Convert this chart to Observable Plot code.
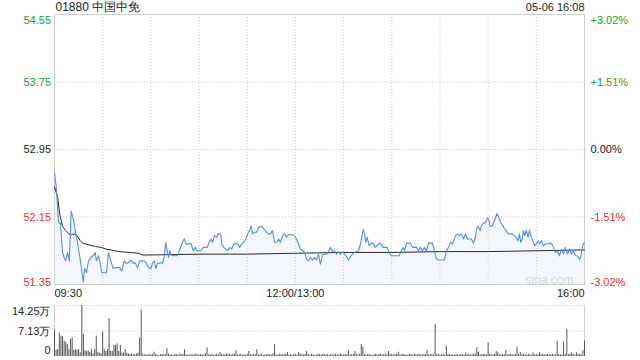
<!DOCTYPE html>
<html><head><meta charset="utf-8">
<script src="https://cdn.jsdelivr.net/npm/d3@7"></script>
<script src="https://cdn.jsdelivr.net/npm/@observablehq/plot@0.6"></script>
<style>
body{margin:0;background:#fff;}
#chart{position:relative;width:640px;height:360px;overflow:hidden;}
#chart svg{position:absolute;left:0;}
</style></head><body><div id="chart"></div>
<script>
const title = "01880 中国中免";
const stamp = "05-06 16:08";
const prevClose = 52.95;
const priceTicks = [51.35, 52.15, 52.95, 53.75, 54.55];
const pctLabels = ["-3.02%", "-1.51%", "0.00%", "+1.51%", "+3.02%"];
const timeTicks = [0, 150, 330];
const timeLabels = ["09:30", "12:00/13:00", "16:00"];
const volTicks = [0, 7.13, 14.25];
const volLabels = ["0", "7.13万", "14.25万"];

// minutes since 09:30 (trading minutes, lunch removed)
const minutes = [
0,1.2,2.5,3.7,5.0,6.0,7.0,8.1,9.2,9.5,
10.4,11.6,12.9,14.3,15.8,17.0,17.9,18.7,19.9,21.2,
22.6,24.1,25.3,26.1,27.4,28.2,29.4,30.9,32.4,33.6,
35.1,36.5,37.8,39.2,40.7,41.9,43.4,44.8,46.1,47.5,
49.0,50.2,51.7,53.1,54.4,55.8,57.3,58.5,60.0,61.0,
62.1,63.1,64.1,65.2,66.2,67.2,68.3,69.3,70.2,71.0,
71.8,73.0,73.9,75.1,76.4,77.6,78.9,80.1,80.9,82.2,
83.4,85.1,86.4,87.6,88.8,90.1,91.3,92.6,93.8,95.1,
96.3,97.6,98.4,99.6,100.9,102.1,103.4,104.2,105.4,106.7,
107.9,109.1,110.4,111.6,112.9,114.1,115.4,116.6,117.9,119.1,
120.3,121.6,122.5,123.3,124.5,125.8,127.0,128.3,129.5,130.7,
132.0,133.2,134.5,135.7,137.0,138.2,139.5,140.7,142.0,143.2,
144.4,145.7,146.9,148.2,149.4,150.7,151.9,153.2,154.4,155.7,
156.9,158.1,159.4,160.6,161.9,163.1,164.4,165.6,166.9,168.1,
169.3,170.6,171.8,173.1,174.3,175.6,176.8,178.1,179.3,180.6,
181.8,183.0,184.3,185.5,186.8,188.0,189.3,190.5,191.3,192.2,
193.0,193.8,194.7,195.9,197.2,198.4,199.7,200.9,202.2,203.4,
204.6,205.9,207.1,208.4,209.6,210.9,212.1,213.4,214.6,215.9,
217.1,217.9,219.2,220.4,221.6,222.9,224.1,225.4,226.6,227.9,
229.1,230.4,231.6,232.9,234.1,235.3,236.6,237.8,239.1,240.3,
241.6,242.8,244.1,245.3,246.6,247.8,249.0,249.7,250.9,252.2,
253.4,254.6,255.9,257.1,258.4,259.6,260.9,262.1,262.9,263.8,
265.0,265.8,267.1,268.3,269.6,270.4,271.3,272.5,273.8,274.6,
275.4,276.3,277.5,278.7,280.0,281.2,282.5,283.7,285.0,286.2,
287.4,288.7,289.5,290.3,291.2,292.0,292.8,293.7,294.9,295.7,
296.5,297.8,299.0,300.3,301.1,302.0,303.2,304.4,305.7,306.9,
308.2,309.4,310.7,311.9,313.2,314.4,315.7,316.9,318.1,319.4,
320.6,321.9,323.1,324.4,325.6,326.8,327.6,328.5,329.3,330
];
const prices = [
52.67,52.49,52.08,52.08,51.73,51.67,51.63,51.73,51.63,51.77,
52.22,52.13,51.99,51.85,51.67,51.51,51.38,51.54,51.49,51.63,
51.67,51.69,51.73,51.63,51.69,51.63,51.49,51.49,51.49,51.73,
51.63,51.54,51.55,51.55,51.55,51.51,51.63,51.60,51.61,51.64,
51.60,51.61,51.55,51.63,51.63,51.63,51.60,51.55,51.54,51.60,
51.63,51.54,51.60,51.60,51.61,51.60,51.67,51.85,51.75,51.67,
51.75,51.69,51.69,51.69,51.69,51.75,51.81,51.87,51.89,51.82,
51.84,51.83,51.75,51.79,51.75,51.75,51.75,51.79,51.79,51.79,
51.85,51.89,51.85,51.93,51.91,51.95,51.95,51.83,51.79,51.77,
51.75,51.79,51.77,51.83,51.84,51.83,51.79,51.83,51.85,51.89,
51.95,52.00,52.04,51.95,51.97,51.97,52.02,52.04,52.03,52.00,
51.97,51.95,51.95,51.99,51.85,51.85,51.89,51.85,51.93,51.95,
51.91,51.94,51.94,51.94,51.93,51.89,51.83,51.77,51.75,51.73,
51.65,51.63,51.67,51.64,51.67,51.64,51.71,51.59,51.70,51.71,
51.71,51.74,51.79,51.74,51.75,51.71,51.74,51.71,51.74,51.71,
51.68,51.64,51.68,51.71,51.73,51.74,51.75,51.83,51.91,52.00,
51.95,51.85,51.91,51.81,51.84,51.84,51.79,51.81,51.84,51.83,
51.79,51.79,51.79,51.73,51.69,51.69,51.69,51.69,51.69,51.75,
51.79,51.75,51.84,51.84,51.84,51.79,51.79,51.79,51.75,51.79,
51.75,51.79,51.75,51.84,51.84,51.84,51.75,51.65,51.64,51.64,
51.64,51.64,51.75,51.79,51.85,51.83,51.89,51.93,51.95,51.93,
51.95,51.89,51.95,51.89,51.89,51.89,51.84,51.91,52.02,52.04,
51.99,52.04,52.08,52.08,52.14,52.12,52.04,52.04,52.10,52.14,
52.19,52.16,52.10,52.06,52.02,51.99,51.95,51.95,51.95,51.93,
51.91,51.87,51.95,51.85,51.89,51.99,51.93,51.99,51.91,51.99,
51.93,51.87,51.81,51.84,51.87,51.83,51.87,51.81,51.83,51.83,
51.84,51.84,51.79,51.73,51.75,51.69,51.77,51.71,51.79,51.71,
51.77,51.71,51.75,51.69,51.69,51.65,51.67,51.77,51.84,51.84
];
const avgMinutes = [0,2,3.3,5,7,9,10.5,12.5,14,16,17.5,21.5,25.5,29,32,35,40,46.5,52.5,54.5,60,90,120,150,180,210,240,270,300,330];
const avgPrices = [52.51,52.38,52.18,52.04,51.99,51.95,51.94,51.95,51.93,51.87,51.84,51.82,51.80,51.79,51.77,51.76,51.74,51.73,51.72,51.70,51.70,51.71,51.71,51.72,51.73,51.73,51.74,51.74,51.75,51.76];

// volume per minute, in 万
const volumes = [
7.4,1.7,1.9,6.5,5.7,5.5,4.3,4.0,3.3,1.9,
4.8,5.2,1.7,1.9,1.7,1.9,1.0,14.25,6.2,1.6,
1.4,1.6,1.1,1.9,0.7,1.9,5.7,1.2,0.9,0.7,
6.9,1.9,1.4,1.9,10.6,1.4,1.4,3.1,3.1,3.5,
1.4,3.1,0.95,0.95,1.9,0.9,0.7,0.5,0.7,0.5,
0.5,0.7,0.9,5.2,13.0,0.6,0.4,0.5,0.3,0.6,
0.4,0.5,1.2,0.6,0.4,0.3,0.5,0.6,0.4,0.5,
2.2,0.6,0.4,0.5,0.3,0.6,0.5,0.4,0.7,0.5,
0.6,1.9,0.4,0.5,0.3,0.6,0.4,0.5,0.7,0.4,
0.5,0.6,0.4,0.5,0.7,2.4,0.5,0.4,0.6,0.3,
0.5,0.7,0.4,1.0,0.5,0.6,0.4,0.8,0.5,0.6,
0.4,0.5,0.7,1.6,0.4,0.5,0.6,0.3,0.5,0.4,
0.6,1.4,0.5,0.4,0.6,0.5,1.9,0.4,0.5,0.6,
0.3,0.5,0.4,0.6,0.5,0.4,0.7,3.3,0.5,0.4,
0.6,0.5,0.4,0.5,0.6,1.1,0.4,0.5,0.3,0.6,
0.5,0.4,1.1,0.6,0.5,0.4,0.6,1.4,0.5,0.4,
0.6,0.5,0.3,0.4,0.6,0.5,0.4,0.5,0.6,0.4,
0.5,0.3,0.6,0.5,0.4,0.6,0.5,0.4,0.7,0.5,
0.4,0.6,0.5,1.6,0.4,0.5,0.6,1.4,0.5,0.4,
0.6,3.3,2.6,0.5,0.4,0.6,0.5,0.4,0.3,0.5,
0.6,0.4,0.5,0.6,0.4,0.5,0.7,0.4,1.4,0.5,
0.6,0.4,0.5,0.6,1.2,0.5,0.4,0.6,0.5,0.3,
0.4,0.6,0.5,0.4,0.7,0.5,0.4,0.6,0.5,0.4,
0.6,0.5,1.7,0.4,0.5,0.6,0.4,9.0,0.5,0.6,
0.4,0.5,0.6,0.4,2.9,0.5,0.6,0.4,0.5,0.3,
0.6,0.5,0.4,0.6,0.5,0.4,1.0,0.5,0.6,0.4,
0.5,0.6,0.7,2.4,1.2,0.5,0.4,0.6,0.5,0.4,
3.8,0.6,0.5,0.4,0.6,1.4,1.0,0.5,0.4,0.6,
0.5,1.7,0.4,0.5,0.6,0.4,0.5,0.6,2.6,0.5,
1.0,0.4,0.6,0.5,0.4,0.6,0.5,0.4,1.0,0.5,
0.6,0.4,1.0,0.5,0.6,0.4,0.5,0.6,0.4,0.5,
0.6,0.4,0.5,4.1,0.6,0.5,0.4,4.1,0.6,7.6,
0.5,0.6,1.0,0.6,0.4,1.0,0.5,0.6,0.4,1.7,4.3
];

const FONT = "Arial, 'Liberation Sans', sans-serif";
const GREEN = "#21a621", RED = "#f02c2c", DARK = "#222";
const colorFor = v => v > prevClose + 1e-9 ? GREEN : v < prevClose - 1e-9 ? RED : DARK;

const priceData = minutes.map((m, i) => ({m, p: prices[i]}));
const avgData = avgMinutes.map((m, i) => ({m, p: avgPrices[i]}));
const tickData = priceTicks.map((v, i) => ({v, pct: pctLabels[i]}));
const lo = priceTicks[0], hi = priceTicks[priceTicks.length - 1];

function sideLabels(data, yKey, textKey, frameAnchor, dx, textAnchor, fill, bottomDy = 1) {
  const n = data.length;
  const common = {y: yKey, text: textKey, frameAnchor, dx, textAnchor, fill, fontSize: 11};
  return [
    Plot.text(data.filter((d, i) => i === 0), {...common, lineAnchor: "bottom", dy: bottomDy}),
    Plot.text(data.filter((d, i) => i > 0 && i < n - 1), {...common, lineAnchor: "middle"}),
    Plot.text(data.filter((d, i) => i === n - 1), {...common, lineAnchor: "top", dy: 2})
  ];
}

const main = Plot.plot({
  width: 640, height: 300,
  marginLeft: 54, marginRight: 56, marginTop: 14, marginBottom: 16,
  x: {domain: [0, 330], axis: null},
  y: {domain: [lo, hi], axis: null},
  color: {type: "identity"},
  style: {fontFamily: FONT, fontSize: "11px", background: "transparent", overflow: "visible"},
  marks: [
    Plot.areaY(priceData, {x: "m", y1: lo, y2: "p", fill: "#f4f7fe"}),
    Plot.ruleX(d3.range(30, 330, 30), {stroke: "#c8c8c8", strokeDasharray: "1,2"}),
    Plot.ruleY(priceTicks.slice(1, -1), {stroke: "#c8c8c8", strokeDasharray: "1,2"}),
    Plot.frame({stroke: "#cfcfcf"}),
    Plot.text(["sina.com"], {frameAnchor: "bottom-right", dx: -11, dy: -4, lineAnchor: "middle", textAnchor: "end", fill: "#d6d6d6", fontSize: 12}),
    Plot.line(avgData, {x: "m", y: "p", stroke: "#2a2a2a", strokeWidth: 1}),
    Plot.line(priceData, {x: "m", y: "p", stroke: "#4f8ef2", strokeWidth: 1.1}),
    ...sideLabels(tickData, "v", d => d.v.toFixed(2), "left", -3.5, "end", d => colorFor(d.v)),
    ...sideLabels(tickData, "v", "pct", "right", 6, "start", d => colorFor(d.v)),
    Plot.text([title], {frameAnchor: "top-left", dx: 1, dy: -7, lineAnchor: "middle", textAnchor: "start", fill: DARK, fontSize: 12}),
    Plot.text([stamp], {frameAnchor: "top-right", dy: -7, lineAnchor: "middle", textAnchor: "end", fill: DARK, fontSize: 11}),
    Plot.text([0], {x: d => timeTicks[0], text: d => timeLabels[0], frameAnchor: "bottom", dy: 9, lineAnchor: "middle", textAnchor: "start", fill: DARK}),
    Plot.text([1], {x: d => timeTicks[1], text: d => timeLabels[1], frameAnchor: "bottom", dy: 9, lineAnchor: "middle", textAnchor: "middle", fill: DARK}),
    Plot.text([2], {x: d => timeTicks[2], text: d => timeLabels[2], frameAnchor: "bottom", dy: 9, lineAnchor: "middle", textAnchor: "end", fill: DARK})
  ]
});
main.style.top = "0px";

const volData = volumes.map((v, i) => ({m: i, v}));
const volTickData = volTicks.map((v, i) => ({v, label: volLabels[i]}));
const vol = Plot.plot({
  width: 640, height: 60,
  marginLeft: 54, marginRight: 56, marginTop: 5, marginBottom: 4,
  x: {domain: [0, 330], axis: null},
  y: {domain: [0, volTicks[2]], axis: null},
  style: {fontFamily: FONT, fontSize: "11px", background: "transparent", overflow: "visible"},
  marks: [
    Plot.ruleY(volTicks.slice(1), {stroke: "#c8c8c8", strokeDasharray: "1,2"}),
    Plot.ruleX([0, 330], {stroke: "#cfcfcf"}),
    Plot.ruleX(volData, {x: "m", y1: 0, y2: "v", stroke: "#555", strokeWidth: 1}),
    ...sideLabels(volTickData, "v", "label", "left", -4, "end", DARK, -3)
  ]
});
vol.style.top = "300px";

const root = document.getElementById("chart");
root.appendChild(main);
root.appendChild(vol);
</script>
</body></html>
